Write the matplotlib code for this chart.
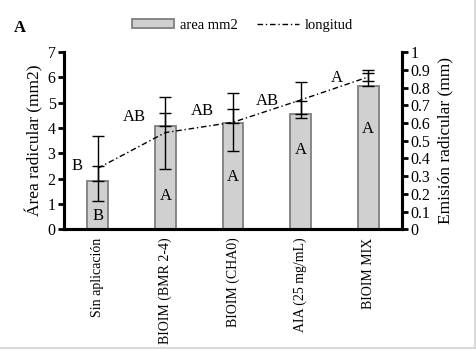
import matplotlib
matplotlib.use("Agg")
import matplotlib.pyplot as plt
from matplotlib.lines import Line2D
from matplotlib.patches import Patch

categories = ["Sin aplicación", "BIOIM (BMR 2-4)", "BIOIM (CHA0)",
              "AIA (25 mg/mL)", "BIOIM MIX"]
area = [1.9, 4.08, 4.19, 4.55, 5.65]           # mm2, left axis
area_err = [0.61, 0.52, 0.56, 0.50, 0.65]      # plus direction only
longitud = [0.344, 0.546, 0.604, 0.73, 0.86]   # mm, right axis
longitud_err = [0.183, 0.203, 0.164, 0.10, 0.025]
area_letters = ["B", "A", "A", "A", "A"]
longitud_letters = ["B", "AB", "AB", "AB", "A"]

# label positions (left-axis units / right-axis units)
area_letter_y = [0.53, 1.32, 2.07, 3.13, 3.96]
longitud_letter_dx = [-0.30, -0.46, -0.45, -0.49, -0.46]
longitud_letter_y = [0.357, 0.634, 0.668, 0.726, 0.854]


def main() -> None:
    plt.rcParams["font.family"] = ["Liberation Serif", "DejaVu Serif"]
    plt.rcParams["font.size"] = 11.5

    fig = plt.figure(figsize=(4.77, 3.5), dpi=100)
    ax = fig.add_axes([0.134, 0.345, 0.709, 0.506])
    ax2 = ax.twinx()
    x = list(range(len(categories)))

    # --- bars ------------------------------------------------------------ #
    ax.bar(x, area, width=0.31, color="#d0d0d0", edgecolor="#7f7f7f",
           linewidth=1.3, zorder=2)
    ax.errorbar(x, area, yerr=[[0] * len(area), area_err], fmt="none",
                ecolor="black", elinewidth=1, capsize=4, capthick=1, zorder=3)
    for xi, lab, yy in zip(x, area_letters, area_letter_y):
        ax.text(xi, yy, lab, ha="center", va="center", fontsize=12, zorder=4)

    # --- line ------------------------------------------------------------ #
    ax2.plot(x, longitud, color="black", linewidth=1,
             linestyle=(0, (4, 2, 1, 2)), zorder=3)
    ax2.errorbar(x, longitud, yerr=longitud_err, fmt="none", ecolor="black",
                 elinewidth=1, capsize=4, capthick=1, zorder=3)
    for xi, lab, dx, yy in zip(x, longitud_letters, longitud_letter_dx,
                               longitud_letter_y):
        ax2.text(xi + dx, yy, lab, ha="center", va="center", fontsize=12)

    # --- axes ------------------------------------------------------------ #
    ax.set_xlim(-0.5, len(categories) - 0.5)
    ax.set_ylim(0, 7)
    ax.set_yticks(range(0, 8))
    ax2.set_ylim(0, 1)
    ax2.set_yticks([i / 10 for i in range(11)])
    ax2.set_yticklabels(["0"] + [f"{i / 10:.1f}" for i in range(1, 10)] + ["1"])

    ax.set_xticks(x)
    ax.set_xticklabels(categories, rotation=90, fontsize=10)
    ax.tick_params(axis="x", length=0, pad=6)
    ax.tick_params(axis="y", direction="out", length=4, width=2, pad=2)
    ax2.tick_params(axis="y", direction="out", length=4, width=2, pad=2)

    for a in (ax, ax2):
        a.spines["top"].set_visible(False)
        for side in ("left", "right", "bottom"):
            a.spines[side].set_linewidth(2.2)

    ax.set_ylabel("Área radicular (mm2)", fontsize=12.5, labelpad=3)
    ax2.set_ylabel("Emisión radicular (mm)", fontsize=12.5, labelpad=5)

    # --- legend & panel letter ------------------------------------------- #
    handles = [Patch(facecolor="#d0d0d0", edgecolor="#7f7f7f", linewidth=1.3),
               Line2D([0], [0], color="black", linewidth=1,
                      linestyle=(0, (4, 2, 1, 2)))]
    fig.legend(handles, ["area mm2", "longitud"], loc="center",
               bbox_to_anchor=(0.508, 0.928), ncol=2, frameon=False,
               handlelength=2.9, handleheight=0.5, columnspacing=1.3,
               handletextpad=0.4, fontsize=10.5)
    fig.text(0.028, 0.92, "A", fontweight="bold", fontsize=12,
             va="center", ha="left")

    # light frame at right and bottom, as in the source image
    fig.add_artist(Line2D([0.996, 0.996], [0.005, 1], color="#d9d9d9",
                          linewidth=1.5, transform=fig.transFigure))
    fig.add_artist(Line2D([0, 0.996], [0.007, 0.007], color="#d9d9d9",
                          linewidth=1.5, transform=fig.transFigure))

    fig.savefig("out.png", dpi=100, facecolor="white")


if __name__ == "__main__":
    main()
